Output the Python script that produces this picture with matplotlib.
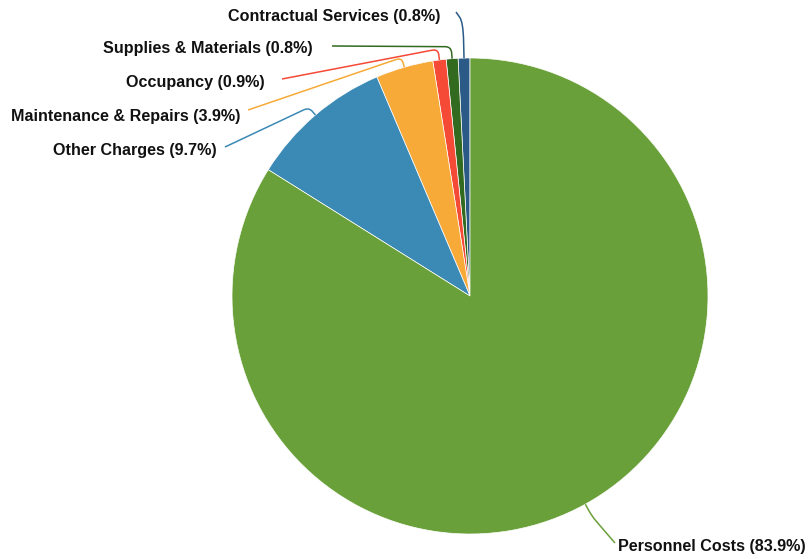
import matplotlib.pyplot as plt
import numpy as np
from matplotlib.path import Path
from matplotlib.patches import PathPatch

# Budget shares, counter-clockwise from 12 o'clock
labels = [
    "Contractual Services",
    "Supplies & Materials",
    "Occupancy",
    "Maintenance & Repairs",
    "Other Charges",
    "Personnel Costs",
]
shares = [0.8, 0.8, 0.9, 3.9, 9.7, 83.9]
colors = ["#2a5a85", "#326a1f", "#f44a36", "#f7aa37", "#3b89b5", "#6aa03a"]

# label anchor (pixel coords, right end of text) and leader-line end points
label_pos = [(440, 17), (313, 49), (265, 83), (240, 116), (217, 150), (806, 547)]
line_end = [(456, 12), (332, 46), (282, 79), (248, 110), (225, 147), (615, 543)]
elbow_len = [36, 12, 11, 10, 10, 14]

CX, CY, R = 470, 296, 238

fig = plt.figure(figsize=(8.1, 5.59), dpi=100)
ax = fig.add_axes([0, 0, 1, 1])

# y axis inverted so data coords == pixel coords; go clockwise in data
wedges, _ = ax.pie(
    shares,
    colors=colors,
    startangle=-90,
    counterclock=False,
    center=(CX, CY),
    radius=R,
    wedgeprops=dict(edgecolor="white", linewidth=0.5),
)
ax.set_xlim(0, 810)
ax.set_ylim(559, 0)
ax.axis("off")

for w, lab, val, col, (tx, ty), (ex, ey), el in zip(
    wedges, labels, shares, colors, label_pos, line_end, elbow_len
):
    mid = np.deg2rad((w.theta1 + w.theta2) / 2)
    d = np.array([np.cos(mid), np.sin(mid)])
    p0 = np.array([CX, CY]) + R * d
    elbow = np.array([CX, CY]) + (R + el) * d
    end = np.array([ex, ey])
    pre = p0 + 0.5 * (elbow - p0)
    post = elbow + 6 * (end - elbow) / np.linalg.norm(end - elbow)
    path = Path(
        [p0, pre, elbow, post, end],
        [Path.MOVETO, Path.LINETO, Path.CURVE3, Path.CURVE3, Path.LINETO],
    )
    ax.add_patch(PathPatch(path, fill=False, edgecolor=col, linewidth=1.1))

    ax.text(
        tx, ty, f"{lab} ({val}%)",
        ha="right", va="center", fontsize=11.6, fontweight="bold",
        family="Liberation Sans", color="#111111",
    )

fig.savefig("out.png", dpi=100)
